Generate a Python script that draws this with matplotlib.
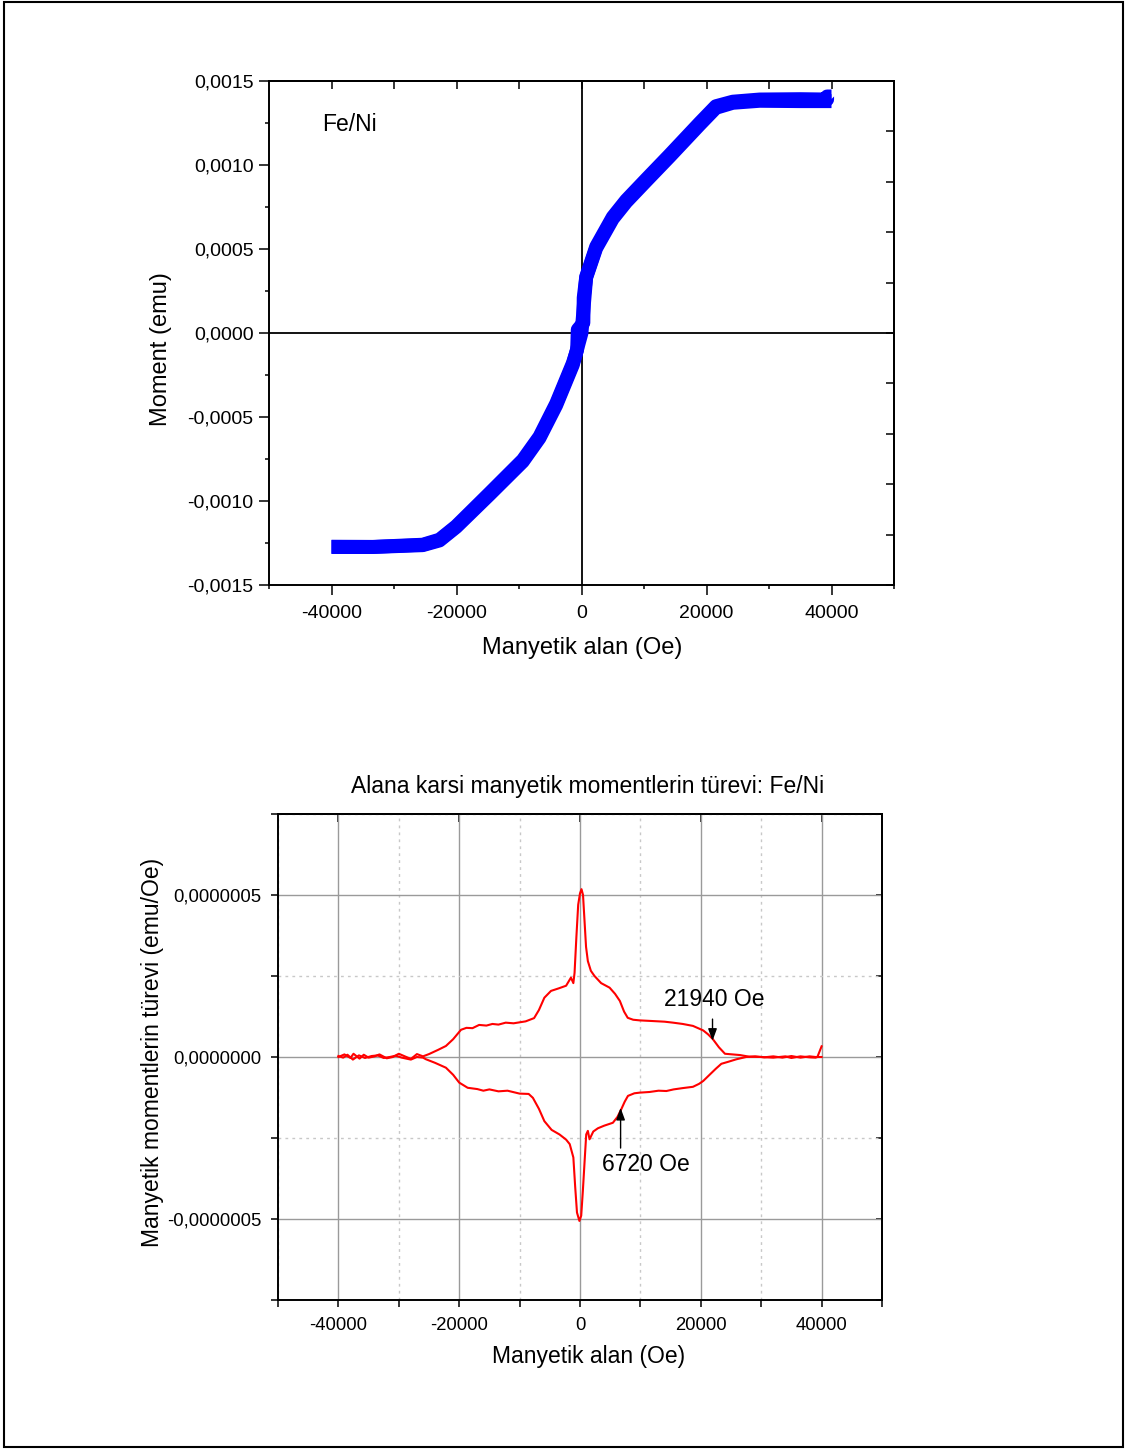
import numpy as np
import matplotlib
matplotlib.use('Agg')
import matplotlib.pyplot as plt
from matplotlib.ticker import FuncFormatter, NullFormatter
from matplotlib.patches import Rectangle

plt.rcParams['font.family'] = ['Liberation Sans', 'DejaVu Sans']
plt.rcParams['axes.unicode_minus'] = False

# ---------------- data: top panel (M-H loop, Fe/Ni) ----------------
field_up = [-40000, -33400, -25400, -22720, -20050, -14720, -9390, -6720, -4050,
            -1390, -700, -600, 300, 350, 750, 2350, 5000, 7150, 10350, 14100, 18900,
            21500, 24200, 28500, 35000, 39300, 39300, 40000]
moment_up = [-0.001272, -0.001273, -0.00126, -0.00123, -0.00115, -0.000954, -0.000756,
             -0.000617, -0.00042, -0.00018, -0.0001, 0.00002, 0.00006, 0.00021,
             0.000335, 0.000514, 0.00069, 0.00079, 0.000915, 0.00106, 0.00125, 0.00135,
             0.001377, 0.00139, 0.001392, 0.00139, 0.001408, 0.001408]
field_down = [40000, 35000, 28500, 24200, 21500, 18900, 14100, 10350, 7150, 5000,
              2350, 750, 0, -1390, -4050, -6720, -9390, -14720, -20050, -22720,
              -25400, -33400, -40000]
moment_down = [0.00138, 0.00138, 0.001382, 0.00137, 0.00134, 0.00124, 0.00105,
               0.000905, 0.00078, 0.00068, 0.000505, 0.00033, 0.0, -0.00019,
               -0.00043, -0.000625, -0.000765, -0.000962, -0.001155, -0.001235,
               -0.001263, -0.001274, -0.001274]

# ---------------- data: bottom panel (dM/dH) ----------------
field_upper = [-40000, -39000, -38000, -37500, -36500, -35800, -35000, -34000, -33200,
               -32000, -31000, -30000, -29000, -28000, -27000, -26000, -25000, -23500,
               -22200, -21000, -19700, -18800, -17800, -16700, -15500, -14500, -13500,
               -12300, -11000, -9000, -7600, -6800, -5900, -4800, -3500, -2300, -1500,
               -1100, -900, -600, -300, 0, 250, 500, 750, 1000, 1300, 1800, 2400, 3500,
               4900, 5800, 6600, 7300, 7900, 8800, 9900, 12000, 14000, 15400, 17000,
               18700, 20400, 21200, 22000, 23000, 24000, 26500, 28000, 30000, 32000,
               34000, 35000, 36500, 38000, 39000, 39300, 40000]
deriv_upper = [0, 8e-9, -3e-9, 1e-8, -5e-9, 7e-9, -2e-9, 2e-9, 8e-9,
               -4e-9, 0, 1e-8, 2e-9, -6e-9, 9e-9, 2e-9, 9e-9, 2.2e-8,
               3.4e-8, 5.5e-8, 8.4e-8, 9e-8, 8.9e-8, 9.9e-8, 9.7e-8, 1.02e-7, 1.0e-7,
               1.06e-7, 1.04e-7, 1.1e-7, 1.2e-7, 1.45e-7, 1.83e-7, 2.04e-7, 2.12e-7,
               2.2e-7, 2.45e-7, 2.28e-7, 2.6e-7, 3.7e-7, 4.7e-7, 5.05e-7, 5.18e-7,
               5.0e-7, 4.2e-7, 3.4e-7, 2.96e-7, 2.66e-7, 2.5e-7, 2.28e-7, 2.14e-7,
               1.95e-7, 1.73e-7, 1.4e-7, 1.21e-7, 1.15e-7, 1.13e-7, 1.11e-7, 1.09e-7,
               1.06e-7, 1.02e-7, 9.6e-8, 8.2e-8, 7e-8, 5.5e-8, 3e-8, 1e-8, 6e-9, 1e-9,
               0, -2e-9, 2e-9, -3e-9, 2e-9, -1e-9, -2e-9, 0, 3.3e-8]
field_lower = [-40000, -39200, -38500, -37600, -36600, -35600, -34500, -33500, -32500,
               -31500, -30500, -29500, -28000, -27000, -26000, -25500, -24000, -22200,
               -21000, -20000, -18600, -17000, -16000, -15000, -13500, -12000, -10000,
               -8500, -7800, -6800, -5900, -4700, -3400, -2300, -1700, -1100, -800,
               -500, -100, 200, 470, 800, 1030, 1300, 1580, 2200, 2960, 4000, 5440,
               6200, 6840, 7400, 7940, 9000, 9880, 11500, 13000, 14300, 15500, 17000,
               18700, 19700, 20400, 21500, 22500, 23400, 24500, 25900, 27500, 29000,
               30500, 32000, 33500, 35000, 36500, 38000, 39000, 40000]
deriv_lower = [3e-9, -2e-9, 7e-9, -8e-9, 5e-9, -3e-9, 3e-9, 5e-9, -3e-9,
               0, 4e-9, -2e-9, -8e-9, 0, -2e-9, -7e-9, -1.8e-8, -3.3e-8,
               -5.5e-8, -7.9e-8, -9.5e-8, -9.9e-8, -1.04e-7, -1.0e-7, -1.06e-7,
               -1.04e-7, -1.13e-7, -1.14e-7, -1.26e-7, -1.6e-7, -1.98e-7, -2.25e-7,
               -2.39e-7, -2.55e-7, -2.69e-7, -3.1e-7, -4.0e-7, -4.8e-7, -5.06e-7,
               -4.9e-7, -4.14e-7, -3.1e-7, -2.39e-7, -2.28e-7, -2.54e-7, -2.3e-7,
               -2.2e-7, -2.12e-7, -2.03e-7, -1.85e-7, -1.61e-7, -1.38e-7, -1.2e-7,
               -1.12e-7, -1.1e-7, -1.08e-7, -1.04e-7, -1.05e-7, -1.0e-7, -9.6e-8,
               -9.2e-8, -8.3e-8, -7.4e-8, -5.4e-8, -3.6e-8, -2.1e-8, -1.5e-8, -7e-9,
               0, 2e-9, -1e-9, 2e-9, -2e-9, 3e-9, -2e-9, 2e-9, 0, 0]

ann_fields = [21940, 6720]
ann_labels = ['21940 Oe', '6720 Oe']

top_xticks = [-40000, -20000, 0, 20000, 40000]

# ---------------- figure ----------------
W, H = 1129, 1450
fig = plt.figure(figsize=(W / 100, H / 100), dpi=100)


def fx(px):
    return px / W


def fy(py):
    return 1 - py / H


def comma_fmt(dec):
    def f(v, pos):
        if abs(v) < 1e-15:
            v = 0.0
        return f"{v:.{dec}f}".replace('.', ',')
    return f


def x_fmt(v, pos):
    v = int(round(v))
    if v in top_xticks:
        return str(v)
    return ''


# page border
fig.add_artist(Rectangle((fx(4), fy(1447)), fx(1123) - fx(4), fy(2) - fy(1447),
                         transform=fig.transFigure, fill=False, lw=1.5, ec='black'))

# ---------- top panel ----------
ax1 = fig.add_axes([fx(269), fy(585), fx(894) - fx(269), fy(81) - fy(585)])
ax1.patch.set_alpha(0)
ax1.axhline(0, color='black', lw=1.3, zorder=1)
ax1.axvline(0, color='black', lw=1.3, zorder=1)
ax1.plot(field_up, moment_up, color='#0000ff', lw=10, solid_capstyle='butt',
         solid_joinstyle='round', zorder=3)
ax1.plot(field_down, moment_down, color='#0000ff', lw=10, solid_capstyle='butt',
         solid_joinstyle='round', zorder=3)
ax1.set_xlim(-50000, 50000)
ax1.set_ylim(-0.0015, 0.0015)
ax1.set_xticks(np.arange(-50000, 50001, 10000))
ax1.xaxis.set_major_formatter(FuncFormatter(x_fmt))
ax1.set_yticks(np.arange(-0.0015, 0.00151, 0.0005))
ax1.set_yticks(np.arange(-0.00125, 0.0013, 0.0005), minor=True)
ax1.yaxis.set_major_formatter(FuncFormatter(comma_fmt(4)))
ax1.tick_params(axis='both', which='major', direction='out', length=7, width=1.1,
                labelsize=14, pad=4, top=False, right=False)
ax1.tick_params(axis='x', which='major', pad=7.5)
ax1.tick_params(axis='y', which='minor', direction='out', length=3, width=1.1,
                right=False)
for s in ax1.spines.values():
    s.set_linewidth(1.4)
for t, v in zip(ax1.xaxis.get_major_ticks(), np.arange(-50000, 50001, 10000)):
    if int(v) not in top_xticks:
        t.tick1line.set_markersize(3)

sec_top1 = ax1.secondary_xaxis('top')
sec_top1.set_xticks(np.arange(-40000, 40001, 10000))
sec_top1.xaxis.set_major_formatter(NullFormatter())
sec_top1.tick_params(direction='in', length=6, width=1.1)
sec_top1.spines['top'].set_linewidth(1.4)
sec_right1 = ax1.secondary_yaxis('right')
sec_right1.set_yticks(np.arange(-0.0015, 0.00151, 0.0003))
sec_right1.yaxis.set_major_formatter(NullFormatter())
sec_right1.tick_params(direction='in', length=6, width=1.1)
sec_right1.spines['right'].set_linewidth(1.4)

ax1.text(-41500, 0.00124, 'Fe/Ni', fontsize=16.5, ha='left', va='center')
fig.text(fx(582), fy(648), 'Manyetik alan (Oe)', fontsize=17, ha='center', va='center')
fig.text(fx(161), fy(349), 'Moment (emu)', fontsize=17, ha='center', va='center',
         rotation=90)

# ---------- bottom panel ----------
ax2 = fig.add_axes([fx(278), fy(1300), fx(882) - fx(278), fy(814) - fy(1300)])
ax2.patch.set_alpha(0)
ax2.plot(field_upper, deriv_upper, color='#ff0000', lw=1.5, zorder=3)
ax2.plot(field_lower, deriv_lower, color='#ff0000', lw=1.5, zorder=3)
ax2.set_xlim(-50000, 50000)
ax2.set_ylim(-7.5e-7, 7.5e-7)
ax2.set_xticks(top_xticks)
ax2.set_xticks([-50000, -30000, -10000, 10000, 30000, 50000], minor=True)
ax2.set_yticks([-5e-7, 0, 5e-7])
ax2.set_yticks([-7.5e-7, -2.5e-7, 2.5e-7, 7.5e-7], minor=True)
ax2.yaxis.set_major_formatter(FuncFormatter(comma_fmt(7)))
ax2.grid(which='major', color='#9a9a9a', lw=1.0, ls='-', zorder=0)
ax2.grid(which='minor', color='#c8c8c8', lw=1.0, ls=(0, (2, 3)), zorder=0)
ax2.set_axisbelow(True)
ax2.tick_params(axis='both', which='both', direction='out', length=5, width=1.1,
                labelsize=13.3, pad=7, top=False, right=False)
for s in ax2.spines.values():
    s.set_linewidth(1.4)

sec_top2 = ax2.secondary_xaxis('top')
sec_top2.set_xticks(top_xticks)
sec_top2.xaxis.set_major_formatter(NullFormatter())
sec_top2.tick_params(direction='in', length=6, width=1.1)
sec_top2.spines['top'].set_linewidth(1.4)
sec_right2 = ax2.secondary_yaxis('right')
sec_right2.set_yticks([-7.5e-7, -5e-7, -2.5e-7, 0, 2.5e-7, 5e-7, 7.5e-7])
sec_right2.yaxis.set_major_formatter(NullFormatter())
sec_right2.tick_params(direction='in', length=4, width=1.1)
sec_right2.spines['right'].set_linewidth(1.4)

arrow_kw = dict(arrowstyle='-|>,head_length=0.6,head_width=0.22', color='black',
                lw=1.0, shrinkA=0, shrinkB=0, mutation_scale=12)
ax2.annotate('', xy=(ann_fields[0], 5.0e-8), xytext=(ann_fields[0], 1.17e-7),
             arrowprops=arrow_kw, zorder=5)
ax2.text(22200, 1.78e-7, ann_labels[0], fontsize=16.5, ha='center', va='center')
ax2.annotate('', xy=(ann_fields[1], -1.57e-7), xytext=(ann_fields[1], -2.81e-7),
             arrowprops=arrow_kw, zorder=5)
ax2.text(10870, -3.33e-7, ann_labels[1], fontsize=16.5, ha='center', va='center')

fig.text(fx(588), fy(787), 'Alana karsi manyetik momentlerin türevi: Fe/Ni',
         fontsize=16.5, ha='center', va='center')
fig.text(fx(589), fy(1357), 'Manyetik alan (Oe)', fontsize=16.5, ha='center',
         va='center')
fig.text(fx(152), fy(1052), 'Manyetik momentlerin türevi (emu/Oe)', fontsize=16.5,
         ha='center', va='center', rotation=90)

fig.savefig('out.png', dpi=100)
